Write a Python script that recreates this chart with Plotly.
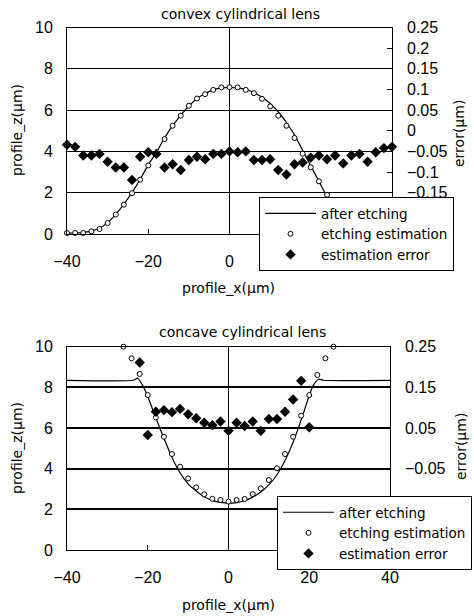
import plotly.graph_objects as go

# ---------------- data: convex lens (top) ----------------
x_pts = [-40, -38, -36, -34, -32, -30, -28, -26, -24, -22, -20, -18, -16, -14, -12, -10, -8, -6, -4, -2,
         0, 2, 4, 6, 8, 10, 12, 14, 16, 18, 20, 22, 24, 26, 28, 30, 32, 34, 36, 38, 40]

convex_line = [0.05, 0.05, 0.07, 0.15, 0.28, 0.55, 0.95, 1.45, 2.0, 2.65, 3.35, 3.95, 4.65, 5.25, 5.75, 6.2,
               6.55, 6.8, 6.98, 7.08, 7.1, 7.08, 7.0, 6.85, 6.62, 6.32, 5.92, 5.4, 4.8, 4.05, 3.3, 2.55,
               1.8, 1.1, 0.6, 0.3, 0.15, 0.07, 0.05, 0.05, 0.05]
convex_est = [0.05, 0.05, 0.05, 0.13, 0.24, 0.53, 0.94, 1.42, 1.98, 2.63, 3.32, 3.89, 4.6, 5.24, 5.73, 6.21,
              6.56, 6.77, 6.98, 7.1, 7.11, 7.1, 6.98, 6.82, 6.55, 6.18, 5.73, 5.24, 4.65, 3.89, 3.23, 2.55,
              1.9, 1.3, 0.85, 0.5, 0.25, 0.12, 0.06, 0.05, 0.05]
convex_err = [-0.034, -0.039, -0.060, -0.060, -0.056, -0.075, -0.089, -0.089, -0.119, -0.063, -0.052,
              -0.056, -0.089, -0.081, -0.095, -0.071, -0.063, -0.069, -0.056, -0.056, -0.050, -0.052,
              -0.050, -0.071, -0.071, -0.069, -0.095, -0.106, -0.081, -0.077, -0.065, -0.060, -0.069,
              -0.060, -0.079, -0.060, -0.056, -0.075, -0.052, -0.042, -0.039]

# ---------------- data: concave lens (bottom) ----------------
concave_line_x = [-41, -23.5, -22.5, -21, -20, -18, -16, -14, -12, -10, -8, -6, -4, -2, 0,
                  2, 4, 6, 8, 10, 12, 14, 16, 18, 20, 21, 22.3, 23.5, 41]
concave_line_z = [8.35, 8.35, 8.45, 8.0, 7.55, 6.5, 5.5, 4.55, 3.8, 3.25, 2.9, 2.62, 2.44, 2.34, 2.3,
                  2.33, 2.42, 2.6, 2.85, 3.2, 3.7, 4.4, 5.3, 6.4, 7.6, 8.1, 8.4, 8.35, 8.35]

concave_est_x = [-26, -24, -22, -20, -18, -16, -14, -12, -10, -8, -6, -4, -2, 0,
                 2, 4, 6, 8, 10, 12, 14, 16, 18, 20, 22, 24, 26]
concave_est = [10.0, 9.43, 8.66, 7.62, 6.52, 5.57, 4.72, 4.10, 3.52, 3.08, 2.74, 2.52, 2.46, 2.38,
               2.46, 2.51, 2.75, 3.03, 3.44, 4.02, 4.72, 5.57, 6.61, 7.62, 8.61, 9.43, 10.0]

concave_err_x = [-22, -20, -18, -16, -14, -12, -10, -8, -6, -4, -2, 0, 2, 4, 6, 8, 10, 12, 14, 16, 18, 20]
concave_err = [0.211, 0.033, 0.090, 0.094, 0.089, 0.097, 0.084, 0.074, 0.063, 0.057, 0.066, 0.043,
               0.063, 0.055, 0.066, 0.043, 0.072, 0.072, 0.090, 0.120, 0.166, 0.052]

TICK_FONT = "Liberation Sans, Arial, sans-serif"
TEXT_FONT = "DejaVu Sans, sans-serif"
W, H = 474, 616

fig = go.Figure()


def add_panel(lx, lz, ex, ez, rx, rz, xa, ya, ya2, leg):
    fig.add_trace(go.Scatter(
        x=lx, y=lz, name="after etching", mode="lines",
        line=dict(color="black", width=1.2, shape="spline", smoothing=0.6),
        xaxis=xa, yaxis=ya, legend=leg,
    ))
    fig.add_trace(go.Scatter(
        x=ex, y=ez, name="etching estimation", mode="markers",
        marker=dict(symbol="circle", size=5, color="white", line=dict(color="black", width=1)),
        cliponaxis=False, xaxis=xa, yaxis=ya, legend=leg,
    ))
    fig.add_trace(go.Scatter(
        x=rx, y=rz, name="estimation error", mode="markers",
        marker=dict(symbol="diamond", size=8, color="black"),
        cliponaxis=False, xaxis=xa, yaxis=ya2, legend=leg,
    ))


add_panel(x_pts, convex_line, x_pts, convex_est, x_pts, convex_err, "x", "y", "y2", "legend")
add_panel(concave_line_x, concave_line_z, concave_est_x, concave_est, concave_err_x, concave_err,
          "x2", "y3", "y4", "legend2")


def px(v):
    return v / W


def py(v):
    return 1 - v / H


xcommon = dict(range=[-40, 40], dtick=20, tick0=0, ticks="inside", ticklen=5, tickcolor="black",
               showline=True, mirror=True, linecolor="black", linewidth=1, showgrid=False,
               zeroline=True, zerolinecolor="black", zerolinewidth=1, automargin=False,
               ticklabelstandoff=13, tickfont=dict(size=16, color="black", family=TICK_FONT))
ycommon = dict(range=[0, 10], dtick=2, ticks="", showline=True, mirror=True, linecolor="black",
               linewidth=1, gridcolor="black", zeroline=False, automargin=False,
               ticklabelstandoff=10, tickfont=dict(size=16, color="black", family=TICK_FONT))
rcommon = dict(range=[-0.25, 0.25], side="right", ticks="inside", ticklen=5, tickcolor="black",
               showgrid=False, zeroline=False, showline=False, automargin=False,
               ticklabelstandoff=14, tickfont=dict(size=16, color="black", family=TICK_FONT))

legcommon = dict(bgcolor="white", bordercolor="black", borderwidth=1, xanchor="left", yanchor="top",
                 font=dict(size=13.5, color="black", family=TEXT_FONT), itemwidth=51, tracegroupgap=0)

fig.update_layout(
    width=W, height=H,
    margin=dict(l=0, r=0, t=0, b=0, autoexpand=False),
    paper_bgcolor="white", plot_bgcolor="white",
    font=dict(family=TEXT_FONT, color="black", size=14),
    xaxis=dict(domain=[px(67), px(392)], anchor="y", **xcommon),
    yaxis=dict(domain=[py(234), py(27.5)], anchor="x", gridwidth=1, **ycommon),
    yaxis2=dict(overlaying="y", anchor="x", dtick=0.05, tick0=0, **rcommon),
    xaxis2=dict(domain=[px(67), px(390)], anchor="y3", **xcommon),
    yaxis3=dict(domain=[py(550), py(346.7)], anchor="x2", gridwidth=2, **ycommon),
    yaxis4=dict(overlaying="y3", anchor="x2", dtick=0.1, tick0=0.25, **rcommon),
    legend=dict(x=px(259), y=py(197), **legcommon),
    legend2=dict(x=px(277), y=py(496), **legcommon),
    showlegend=True,
)

notes = [
    ("convex cylindrical lens", 240, 14, 0),
    ("profile_z(μm)", 17, 130, -90),
    ("error(μm)", 459, 134, -90),
    ("profile_x(μm)", 228, 288, 0),
    ("concave cylindrical lens", 242, 332, 0),
    ("profile_z(μm)", 17, 448, -90),
    ("error(μm)", 461, 447, -90),
    ("profile_x(μm)", 228, 605, 0),
]
for text, ax, ay, ang in notes:
    fig.add_annotation(text=text, x=px(ax), y=py(ay), xref="paper", yref="paper",
                       showarrow=False, textangle=ang, xanchor="center", yanchor="middle",
                       font=dict(size=14, color="black", family=TEXT_FONT))

# the page body has a default 8px margin; drop it so the figure fills the window
fig.write_html("out.html", config={"displayModeBar": False},
               post_script="document.body.style.margin='0';")
